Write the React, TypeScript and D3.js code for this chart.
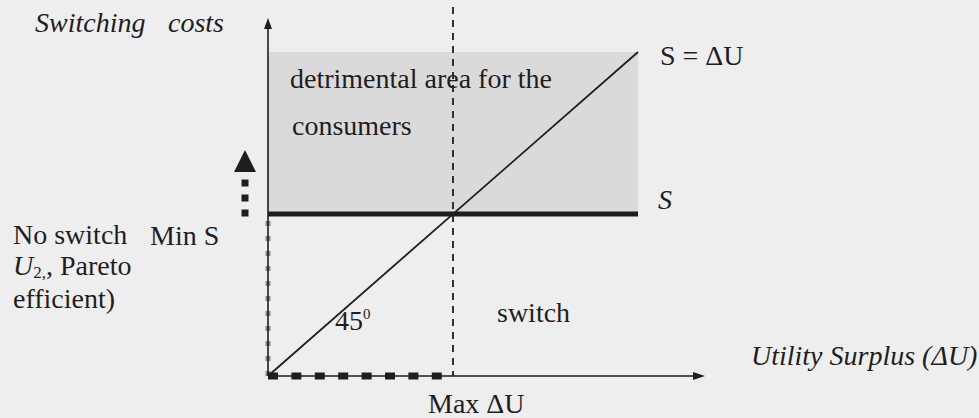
import React from "react";
import * as d3 from "d3";

// Economic diagram: switching costs (S) against utility surplus (ΔU)
const W = 979;
const H = 418;

// Domain values (normalised units)
const diagonalU = [0, 1];          // S = ΔU line (45°)
const minS = 0.5;                  // minimum switching cost level
const maxDeltaU = 0.5;             // maximum utility surplus
const xAxisExtent = [0, 1.181];
const yAxisExtent = [0, 1.105];
const guideTop = 1.139;
const detrimentalArea = { u0: 0, u1: 1, s0: minS, s1: 1 };
const xHighlight = [0, 0.47];      // dotted emphasis along ΔU axis
const yHighlight = [0, minS];      // dotted emphasis along S axis

// Labels
const labelYAxis = ["Switching", "costs"];
const labelXAxis = "Utility Surplus (ΔU)";
const labelArea = ["detrimental area for the", "consumers"];
const labelDiagonal = "S = ΔU";
const labelS = "S";
const labelMinS = "Min S";
const labelMaxU = "Max ΔU";
const labelSwitch = "switch";
const labelAngle = "45";

const serif = "Liberation Serif";
const ink = "#1e1e1e";

export default function App() {
  const x = d3.scaleLinear().domain([0, 1]).range([268, 638]);
  const y = d3.scaleLinear().domain([0, 1]).range([376, 52]);

  const line = d3
    .line<[number, number]>()
    .x((d) => x(d[0]))
    .y((d) => y(d[1]));

  const diag = line(diagonalU.map((u) => [u, u] as [number, number]));

  const x0 = x(0);
  const y0 = y(0);
  const xEnd = x(xAxisExtent[1]);
  const yEnd = y(yAxisExtent[1]);

  return (
    <svg
      width={W}
      height={H}
      style={{ position: "absolute", left: 0, top: 0 }}
    >
      <rect x={0} y={0} width={W} height={H} fill="#eeeeee" />

      {/* detrimental area */}
      <rect
        x={x(detrimentalArea.u0)}
        y={y(detrimentalArea.s1)}
        width={x(detrimentalArea.u1) - x(detrimentalArea.u0)}
        height={y(detrimentalArea.s0) - y(detrimentalArea.s1)}
        fill="#dadada"
      />

      {/* Max ΔU vertical guide */}
      <line
        x1={x(maxDeltaU)}
        x2={x(maxDeltaU)}
        y1={y(guideTop)}
        y2={y0}
        stroke={ink}
        strokeWidth={1.8}
        strokeDasharray="7,6"
      />

      {/* gray dotted emphasis along S axis */}
      <line
        x1={x0}
        x2={x0}
        y1={y(yHighlight[0])}
        y2={y(yHighlight[1])}
        stroke="#8a8a8a"
        strokeWidth={5}
        strokeDasharray="5,10"
      />

      {/* axes */}
      <line x1={x0} x2={x0} y1={y0} y2={yEnd + 8} stroke={ink} strokeWidth={1.6} />
      <path
        d={`M${x0},${yEnd} L${x0 - 4},${yEnd + 11} L${x0 + 4},${yEnd + 11} Z`}
        fill={ink}
      />
      <line x1={x0} x2={xEnd - 8} y1={y0} y2={y0} stroke={ink} strokeWidth={1.6} />
      <path
        d={`M${xEnd},${y0} L${xEnd - 12},${y0 - 4} L${xEnd - 12},${y0 + 4} Z`}
        fill={ink}
      />

      {/* black dotted emphasis along ΔU axis */}
      <line
        x1={x(xHighlight[0])}
        x2={x(xHighlight[1])}
        y1={y0}
        y2={y0}
        stroke={ink}
        strokeWidth={7}
        strokeDasharray="10,13.4"
      />

      {/* S = ΔU diagonal */}
      <path d={diag ?? ""} fill="none" stroke={ink} strokeWidth={1.8} />

      {/* Min S horizontal line */}
      <line
        x1={x(0)}
        x2={x(1)}
        y1={y(minS)}
        y2={y(minS)}
        stroke={ink}
        strokeWidth={5}
      />

      {/* rising indicator at left of S axis */}
      <path d="M245,150 L234,172 L256,172 Z" fill={ink} />
      {[183, 198, 213].map((cy) => (
        <rect key={cy} x={241.5} y={cy - 3.5} width={7} height={7} fill={ink} />
      ))}

      {/* texts */}
      <g fill={ink} style={{ fontFamily: serif, fontSize: "28px" }}>
        <text y={32} fontStyle="italic">
          <tspan x={35}>{labelYAxis[0]}</tspan>
          <tspan x={168}>{labelYAxis[1]}</tspan>
        </text>
        <text x={290} y={88}>{labelArea[0]}</text>
        <text x={292} y={135}>{labelArea[1]}</text>
        <text x={660} y={65}>{labelDiagonal}</text>
        <text x={658} y={209} fontStyle="italic">{labelS}</text>
        <text x={13} y={244}>No switch</text>
        <text x={150} y={245}>{labelMinS}</text>
        <text x={13} y={275}>
          <tspan fontStyle="italic">U</tspan>
          <tspan style={{ fontSize: "17px" }} dy={3}>2,</tspan>
          <tspan dy={-3}>, Pareto</tspan>
        </text>
        <text x={13} y={308}>efficient)</text>
        <text x={335} y={330}>
          {labelAngle}
          <tspan style={{ fontSize: "15px" }} dy={-11}>0</tspan>
        </text>
        <text x={497} y={322}>{labelSwitch}</text>
        <text x={428} y={413}>{labelMaxU}</text>
        <text x={751} y={365} fontStyle="italic">{labelXAxis}</text>
      </g>
    </svg>
  );
}
